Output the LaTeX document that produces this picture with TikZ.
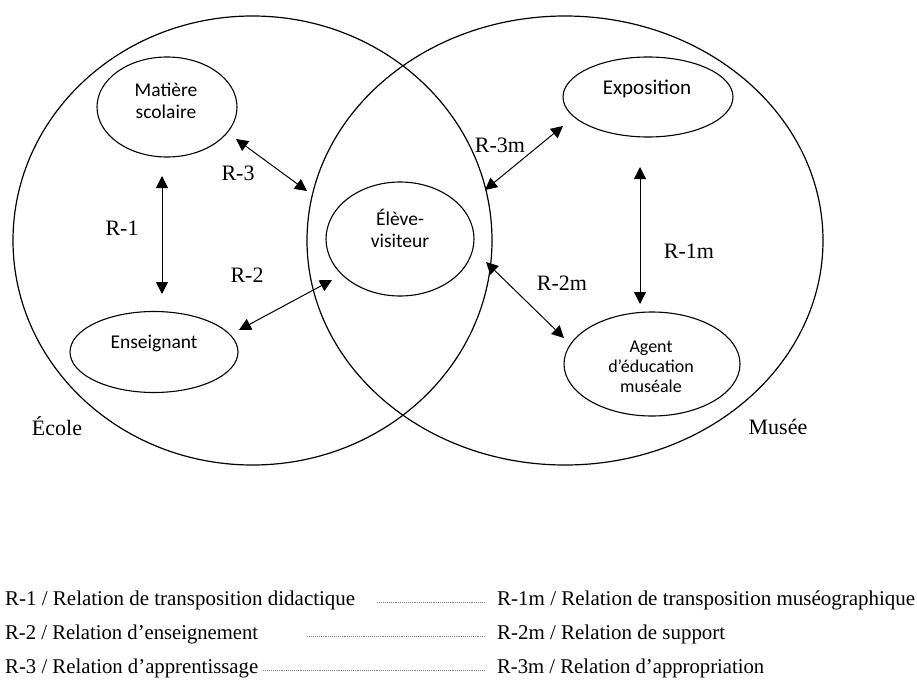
\documentclass[tikz,border=0pt]{standalone}
\usepackage{fontspec}
\setmainfont{Liberation Serif}
\newfontfamily\sansf{Carlito}
\usepackage{graphicx}
\usetikzlibrary{shapes.geometric,arrows.meta}
\newcommand\fitw[2]{\resizebox{#1}{\height}{#2}}
\begin{document}
\begin{tikzpicture}[x=1pt,y=-1pt,
  ring/.style={draw, ellipse, line width=1.2pt, inner sep=0pt},
  ell/.style={draw, ellipse, line width=1.1pt, inner sep=0pt},
  st/.style={font=\sansf\fontsize{19.5}{23}\selectfont, inner sep=0pt, anchor=base},
  sts/.style={font=\sansf\fontsize{18}{21}\selectfont, inner sep=0pt, anchor=base},
  rl/.style={font=\fontsize{22}{26}\selectfont, inner sep=0pt},
  lg/.style={font=\fontsize{21}{25}\selectfont, inner sep=0pt, anchor=base west},
  dl/.style={densely dotted, gray, line width=0.9pt},
  arr/.style={{Triangle[length=12pt,width=12pt]}-{Triangle[length=12pt,width=12pt]}, line width=1pt}]
\fill[white] (0,0) rectangle (917,695);
\useasboundingbox (0,0) rectangle (917,695);

% big circles
\node[ring, minimum width=479pt, minimum height=449pt] (ecole) at (252.5,240.5) {};
\node[ring, minimum width=516pt, minimum height=449pt] (musee) at (565,240.5) {};
\node[rl, anchor=base] (ecolet) at (57,435) {École};
\node[rl, anchor=base] (museet) at (778,434) {Musée};

% inner ellipses
\node[ell, minimum width=140pt, minimum height=100pt] (ms) at (167,107) {};
\node[st] (ms1) at (166,97) {Matière};
\node[st] (ms2) at (166,119) {scolaire};

\node[ell, minimum width=168pt, minimum height=81pt] (ens) at (154,352) {};
\node[st] (enst) at (154,348) {Enseignant};

\node[ell, minimum width=148pt, minimum height=114pt] (eleve) at (400,239) {};
\node[st] (el1) at (400,225) {Élève-};
\node[st] (el2) at (400,247) {visiteur};

\node[ell, minimum width=170pt, minimum height=80pt] (expo) at (648,97) {};
\node[st, font=\sansf\fontsize{21}{25}\selectfont] (expot) at (647,95) {Exposition};

\node[ell, minimum width=176pt, minimum height=104pt] (agent) at (652,364) {};
\node[sts] (ag1) at (651,352) {Agent};
\node[sts] (ag2) at (651,372) {d’éducation};
\node[sts] (ag3) at (651,392) {muséale};

% arrow end points
\coordinate (r1a) at (162,176);
\coordinate (r1b) at (162,294);
\coordinate (r3a) at (236,139);
\coordinate (r3b) at (307,191);
\coordinate (r2a) at (239,330);
\coordinate (r2b) at (332,280);
\coordinate (m3a) at (563,126);
\coordinate (m3b) at (485,190);
\coordinate (m2a) at (486,262);
\coordinate (m2b) at (564,338);
\coordinate (m1a) at (640,167);
\coordinate (m1b) at (640,304);

\draw[arr] (r1a) -- (r1b);
\draw[arr] (r3a) -- (r3b);
\draw[arr] (r2a) -- (r2b);
\draw[arr] (m3a) -- (m3b);
\draw[arr] (m2a) -- (m2b);
\draw[arr] (m1a) -- (m1b);

% relation labels
\node[rl] (lr1) at (122,228) {R-1};
\node[rl] (lr3) at (238,173) {R-3};
\node[rl] (lr2) at (247,275) {R-2};
\node[rl] (lm3) at (500,145) {R-3m};
\node[rl] (lm2) at (562,283) {R-2m};
\node[rl] (lm1) at (689,251) {R-1m};

% legend
\node[lg] (l1) at (5,605) {\fitw{350pt}{R-1 / Relation de transposition didactique}};
\node[lg] (l2) at (5,639) {\fitw{253pt}{R-2 / Relation d’enseignement}};
\node[lg] (l3) at (5,673) {\fitw{253pt}{R-3 / Relation d’apprentissage}};
\node[lg] (g1) at (497,605) {\fitw{418pt}{R-1m / Relation de transposition muséographique}};
\node[lg] (g2) at (497,639) {\fitw{228pt}{R-2m / Relation de support}};
\node[lg] (g3) at (497,673) {\fitw{267pt}{R-3m / Relation d’appropriation}};

\draw[dl] ([shift={(22,-3)}]l1.base east) -- ([shift={(-12,-3)}]g1.base west);
\draw[dl] ([shift={(49,-3)}]l2.base east) -- ([shift={(-12,-3)}]g2.base west);
\draw[dl] ([shift={(5,-3)}]l3.base east) -- ([shift={(-12,-3)}]g3.base west);
\end{tikzpicture}
\end{document}
